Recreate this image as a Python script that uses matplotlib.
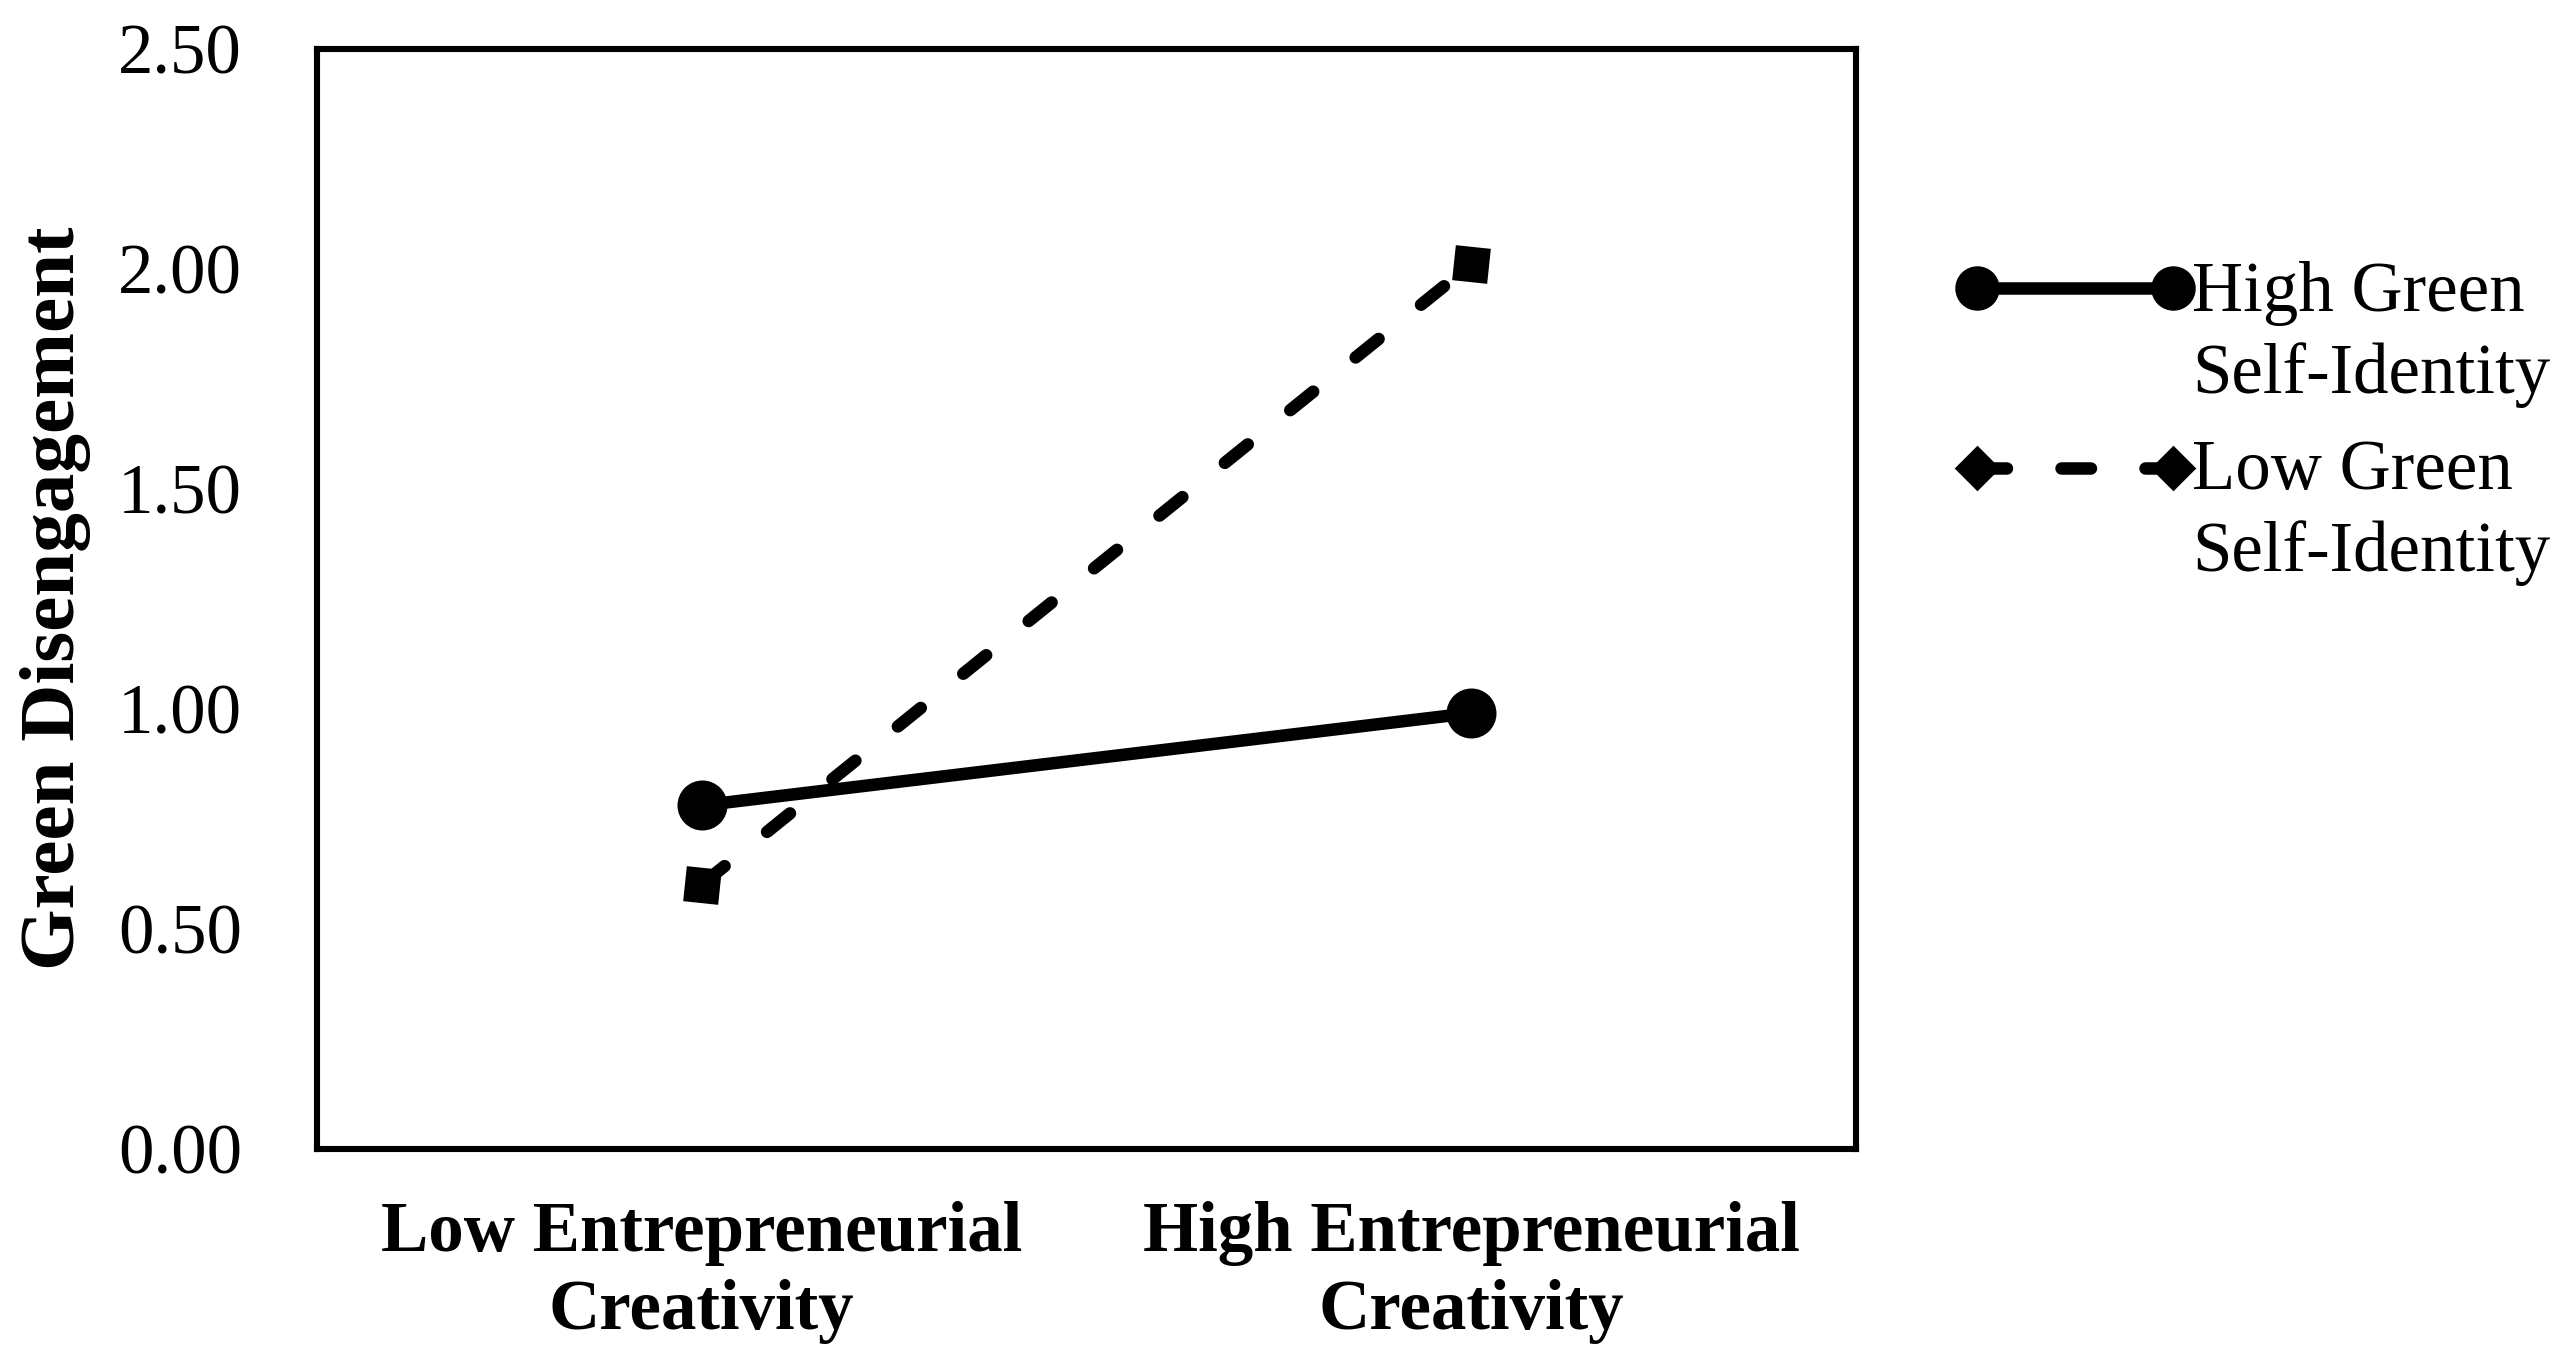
import matplotlib.pyplot as plt
from matplotlib.lines import Line2D

# data
categories = ["Low Entrepreneurial\nCreativity", "High Entrepreneurial\nCreativity"]
high_green = [0.78, 0.99]
low_green = [0.60, 2.01]
series_labels = ["High Green\nSelf-Identity", "Low Green\nSelf-Identity"]
y_ticks = [0.0, 0.5, 1.0, 1.5, 2.0, 2.5]

plt.rcParams['font.family'] = ['Liberation Serif', 'DejaVu Serif']

DPI = 200
fig = plt.figure(figsize=(2568 / DPI, 1356 / DPI), dpi=DPI)
ax = fig.add_axes([0.1234, 0.153, 0.5993, 0.811])

x = list(range(len(categories)))
lw = 4.5

ax.plot(x, high_green, color='black', lw=lw, marker='o', markersize=17,
        solid_capstyle='round', zorder=3)
ax.plot(x, low_green, color='black', lw=lw, linestyle=(0, (2.36, 4.36)),
        dash_capstyle='round', marker=(4, 0, 39), markersize=16.5, zorder=3)

ax.set_xlim(-0.5, len(categories) - 0.5)
ax.set_ylim(0, 2.5)
ax.set_yticks(y_ticks)
ax.set_yticklabels([f"{v:.2f}" for v in y_ticks], fontsize=25.5)
ax.set_xticks(x)
ax.set_xticklabels(categories, fontsize=25.5, fontweight='bold', linespacing=1.25)
ax.tick_params(axis='both', length=0)
ax.tick_params(axis='y', pad=27)
ax.tick_params(axis='x', pad=19)

for sp in ax.spines.values():
    sp.set_linewidth(2.2)
    sp.set_color('black')

ax.set_ylabel("Green Disengagement", fontsize=28.5, fontweight='bold')
ax.yaxis.set_label_coords(-0.147, 0.5)

# legend drawn by hand so the key sits on the first text line
x0, x1 = 0.7699, 0.8462
rows = [(0.7876, 'o', 15, '-', 0.7535), (0.6549, (4, 0, 0), 15, (0, (2.36, 4.36)), 0.6218)]
for (yk, mk, ms, ls, yt), lab in zip(rows, series_labels):
    fig.add_artist(Line2D([x0, x1], [yk, yk], transform=fig.transFigure,
                          color='black', lw=lw, linestyle=ls, marker=mk,
                          markersize=ms, dash_capstyle='round'))
    fig.text(0.8535, yt, lab, fontsize=25.5, ha='left', va='center',
             linespacing=1.32)

fig.savefig('out.png', dpi=DPI)
